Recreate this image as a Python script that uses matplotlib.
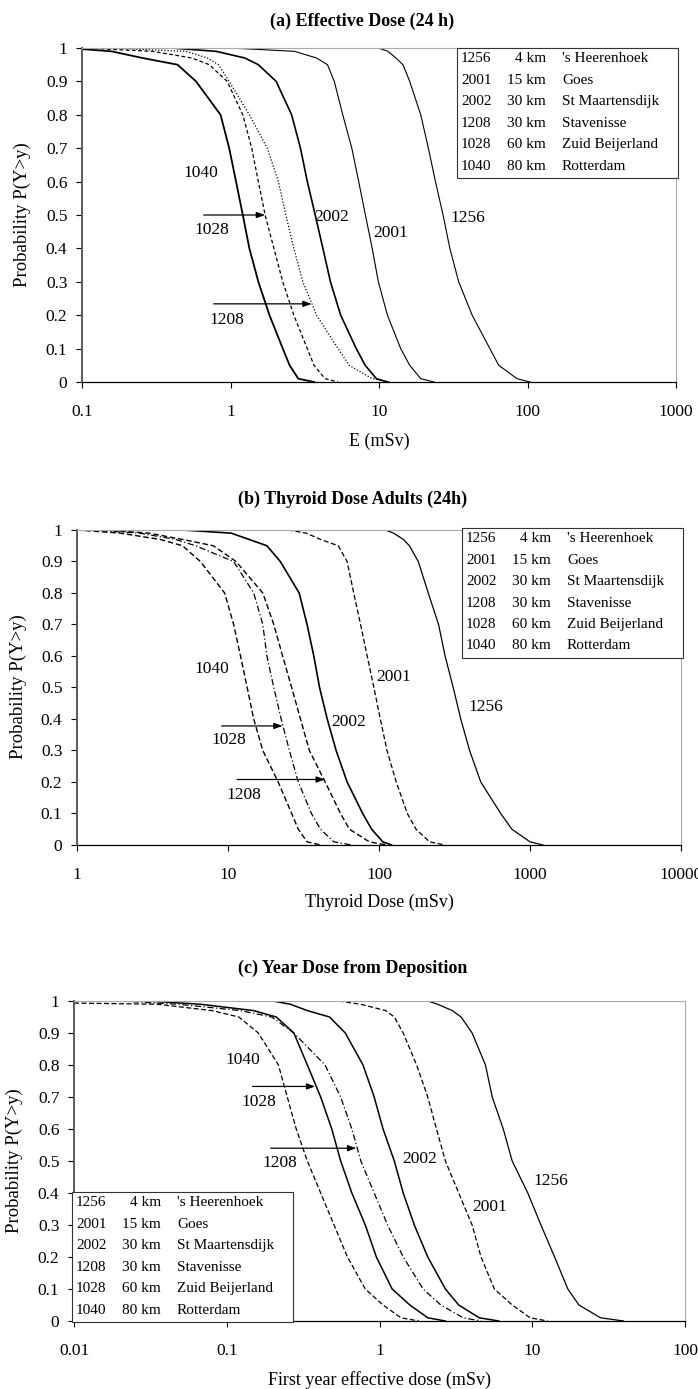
import matplotlib
matplotlib.use("Agg")
import matplotlib.pyplot as plt
from matplotlib.patches import Rectangle

plt.rcParams['font.family'] = ['Liberation Serif', 'DejaVu Serif']

W, H = 698, 1389

# exceedance probability levels at which the curves were read
P = [1.0, 0.99, 0.97, 0.95, 0.9, 0.8, 0.7, 0.6, 0.5, 0.4, 0.3, 0.2, 0.1, 0.05, 0.01, 0.0]

# (a) effective dose 24 h, mSv
a_1256 = [9.9, 11.5, 13, 14.5, 16.1, 19.1, 21.5, 24, 27, 30, 34.4, 42.4, 55.8, 64, 85, 104]
a_2001 = [1.0, 2.7, 3.8, 4.5, 5.0, 5.7, 6.56, 7.3, 8.1, 9.0, 9.9, 11.4, 14, 16.1, 19.1, 23.5]
a_2002 = [0.4, 0.8, 1.25, 1.54, 2.03, 2.58, 2.96, 3.29, 3.72, 4.19, 4.71, 5.52, 7.03, 8.07, 9.6, 11.4]
a_1208 = [0.15, 0.5, 0.7, 0.83, 0.98, 1.34, 1.77, 2.1, 2.36, 2.67, 3.07, 3.8, 5.3, 6.3, 9.0, 11.8]
a_1028 = [0.1, 0.3, 0.55, 0.72, 0.95, 1.21, 1.39, 1.54, 1.71, 1.96, 2.25, 2.67, 3.29, 3.65, 4.33, 5.3]
a_1040 = [0.08, 0.158, 0.256, 0.44, 0.586, 0.857, 0.98, 1.09, 1.21, 1.34, 1.54, 1.83, 2.25, 2.5, 2.86, 3.65]

# (b) thyroid dose adults 24 h, mSv
b_1256 = [110, 125, 145, 159, 182, 212, 248, 274, 310, 348, 398, 472, 640, 759, 1000, 1220]
b_2001 = [25, 33, 41, 53.7, 61.5, 68, 75.5, 83.5, 92.5, 102, 113, 130, 154, 176, 216, 274]
b_2002 = [5, 10.5, 13.8, 18.1, 22.2, 29.6, 33.4, 37, 40.4, 45.4, 52, 61.5, 78, 89.4, 106, 121]
b_1208 = [1.5, 3.0, 5.0, 8.0, 11.3, 17, 20.1, 23, 26.4, 30.2, 34.6, 44, 55.6, 63.7, 86.4, 113]
b_1028 = [1.2, 2.6, 4.5, 6.1, 10.9, 14.8, 17, 18.1, 20.1, 22.5, 25.5, 29.2, 35.7, 41, 50.2, 65.9]
b_1040 = [1.0, 1.93, 3.56, 5, 6.56, 9.5, 10.9, 12.1, 13.4, 14.8, 17, 21.5, 26.4, 29.2, 33.4, 41]

# (c) first year dose from deposition, mSv
c_1256 = [2.07, 2.4, 3.0, 3.42, 4.04, 4.94, 5.47, 6.46, 7.39, 9.35, 11.4, 14, 17.1, 20.2, 28, 39.6]
c_2001 = [0.54, 0.75, 1.1, 1.25, 1.43, 1.75, 2.07, 2.36, 2.7, 3.3, 4.04, 4.62, 5.65, 7.4, 9.67, 12.6]
c_2002 = [0.2, 0.26, 0.337, 0.471, 0.597, 0.78, 0.923, 1.055, 1.25, 1.43, 1.69, 2.07, 2.7, 3.3, 4.5, 6.04]
c_1208 = [0.02, 0.048, 0.123, 0.197, 0.275, 0.44, 0.557, 0.659, 0.755, 0.923, 1.13, 1.43, 1.93, 2.52, 3.53, 4.62]
c_1028 = [0.03, 0.067, 0.15, 0.211, 0.275, 0.337, 0.412, 0.487, 0.557, 0.659, 0.807, 0.954, 1.21, 1.58, 2.07, 2.7]
c_1040 = [0.001, 0.035, 0.08, 0.12, 0.161, 0.218, 0.249, 0.285, 0.337, 0.412, 0.504, 0.617, 0.807, 1.055, 1.38, 1.81]

# legend table
leg_id = ['1256', '2001', '2002', '1208', '1028', '1040']
leg_km = ['4 km', '15 km', '30 km', '30 km', '60 km', '80 km']
leg_name = ["'s Heerenhoek", 'Goes', 'St Maartensdijk', 'Stavenisse', 'Zuid Beijerland', 'Rotterdam']

DASH = (0, (4, 2))
DOT = (0, (1, 1.5))
DASHDOT = (0, (5, 2, 1, 2))

fig = plt.figure(figsize=(W / 100, H / 100), dpi=100)


def make_axes(l, t, r, b):
    return fig.add_axes([l / W, 1 - b / H, (r - l) / W, (b - t) / H])


def ftext(x, y, s, **kw):
    fig.text(x / W, 1 - y / H, s, **kw)


def style(ax, xlim, xticks, xticklabels):
    ax.set_xscale('log')
    ax.set_xlim(*xlim)
    ax.set_ylim(0, 1)
    ax.set_xticks(xticks)
    ax.set_xticklabels(xticklabels)
    ax.minorticks_off()
    ax.set_yticks([i / 10 for i in range(11)])
    ax.set_yticklabels(['0'] + ['0.%d' % i for i in range(1, 10)] + ['1'])
    ax.tick_params(axis='x', direction='out', length=4.5, width=0.8, labelsize=12.5, pad=11)
    ax.tick_params(axis='y', direction='out', length=4.5, width=0.8, labelsize=12.5, pad=6)
    ax.spines['left'].set_color('#5a5a5a')
    ax.spines['left'].set_linewidth(1.4)
    ax.spines['bottom'].set_color('black')
    ax.spines['bottom'].set_linewidth(0.9)
    for s in ('top', 'right'):
        ax.spines[s].set_color('#aaaaaa')
        ax.spines[s].set_linewidth(0.8)


def legend_box(l, t):
    fig.patches.append(Rectangle((l / W, 1 - (t + 130) / H), 221 / W, 130 / H,
                                 transform=fig.transFigure, facecolor='white',
                                 edgecolor='#333333', linewidth=0.8, zorder=5))
    for i in range(6):
        y = t + 11 + 21.4 * i
        ftext(l + 4, y, leg_id[i], ha='left', va='center', fontsize=11, zorder=6)
        ftext(l + 89, y, leg_km[i], ha='right', va='center', fontsize=11, zorder=6)
        ftext(l + 105, y, leg_name[i], ha='left', va='center', fontsize=11, zorder=6)


def arrow(ax, x0, x1, y):
    ax.annotate('', xy=(x1, y), xytext=(x0, y),
                arrowprops=dict(arrowstyle='-|>,head_length=0.5,head_width=0.18',
                                color='black', lw=0.9, shrinkA=0, shrinkB=0))


# ---------- (a)
ax = make_axes(82, 48, 676, 382)
ax.plot(a_1256, P, color='black', lw=0.8)
ax.plot(a_2001, P, color='black', lw=0.8)
ax.plot(a_2002, P, color='black', lw=1.2)
ax.plot(a_1208, P, color='black', lw=0.9, linestyle=DOT)
ax.plot(a_1028, P, color='black', lw=0.9, linestyle=(0, (3, 2)))
ax.plot(a_1040, P, color='black', lw=1.3)
style(ax, (0.1, 1000), [0.1, 1, 10, 100, 1000], ['0.1', '1', '10', '100', '1000'])
for s, x, y in [('1040', 0.627, 0.627), ('1028', 0.746, 0.455), ('1208', 0.95, 0.186),
                ('2002', 4.8, 0.495), ('2001', 12.05, 0.445), ('1256', 39.5, 0.49)]:
    ax.text(x, y, s, ha='center', va='center', fontsize=12.5)
arrow(ax, 0.66, 1.71, 0.5)
arrow(ax, 0.77, 3.52, 0.234)
ftext(362, 21, '(a) Effective Dose (24 h)', ha='center', va='center', fontsize=13, fontweight='bold')
ftext(379, 441, 'E (mSv)', ha='center', va='center', fontsize=13)
ftext(22, 215, 'Probability P(Y>y)', ha='center', va='center', rotation=90, fontsize=13.5)
legend_box(457, 48)

# ---------- (b)
ax = make_axes(77, 530, 681, 845)
ax.plot(b_1256, P, color='black', lw=0.9)
ax.plot(b_2001, P, color='black', lw=0.9, linestyle=DASH)
ax.plot(b_2002, P, color='black', lw=1.2)
ax.plot(b_1208, P, color='black', lw=1.0, linestyle=DASH)
ax.plot(b_1028, P, color='black', lw=0.9, linestyle=DASHDOT)
ax.plot(b_1040, P, color='black', lw=1.0, linestyle=DASH)
style(ax, (1, 10000), [1, 10, 100, 1000, 10000], ['1', '10', '100', '1000', '10000'])
for s, x, y in [('1040', 7.77, 0.559), ('1028', 10.2, 0.334), ('1208', 12.7, 0.158),
                ('2002', 62.8, 0.392), ('2001', 125.6, 0.533), ('1256', 512, 0.438)]:
    ax.text(x, y, s, ha='center', va='center', fontsize=12.5)
arrow(ax, 9.08, 23, 0.378)
arrow(ax, 11.5, 43.8, 0.208)
ftext(353, 499, '(b) Thyroid Dose Adults (24h)', ha='center', va='center', fontsize=13, fontweight='bold')
ftext(379, 902, 'Thyroid Dose (mSv)', ha='center', va='center', fontsize=13)
ftext(18, 687, 'Probability P(Y>y)', ha='center', va='center', rotation=90, fontsize=13.5)
legend_box(462, 528)

# ---------- (c)
ax = make_axes(74, 1001, 685, 1321)
ax.plot(c_1256, P, color='black', lw=0.9)
ax.plot(c_2001, P, color='black', lw=0.9, linestyle=DASH)
ax.plot(c_2002, P, color='black', lw=1.1)
ax.plot(c_1208, P, color='black', lw=0.9, linestyle=DASHDOT)
ax.plot(c_1028, P, color='black', lw=1.1)
ax.plot(c_1040, P, color='black', lw=0.9, linestyle=DASH)
style(ax, (0.01, 100), [0.01, 0.1, 1, 10, 100], ['0.01', '0.1', '1', '10', '100'])
for s, x, y in [('1040', 0.127, 0.817), ('1028', 0.161, 0.684), ('1208', 0.221, 0.494),
                ('2002', 1.83, 0.507), ('2001', 5.28, 0.357), ('1256', 13.3, 0.437)]:
    ax.text(x, y, s, ha='center', va='center', fontsize=12.5)
arrow(ax, 0.1475, 0.38, 0.733)
arrow(ax, 0.194, 0.705, 0.54)
ftext(353, 968, '(c) Year Dose from Deposition', ha='center', va='center', fontsize=13, fontweight='bold')
ftext(380, 1380, 'First year effective dose (mSv)', ha='center', va='center', fontsize=13)
ftext(14, 1161, 'Probability P(Y>y)', ha='center', va='center', rotation=90, fontsize=13.5)
legend_box(72, 1192)

fig.savefig('out.png', dpi=100)
